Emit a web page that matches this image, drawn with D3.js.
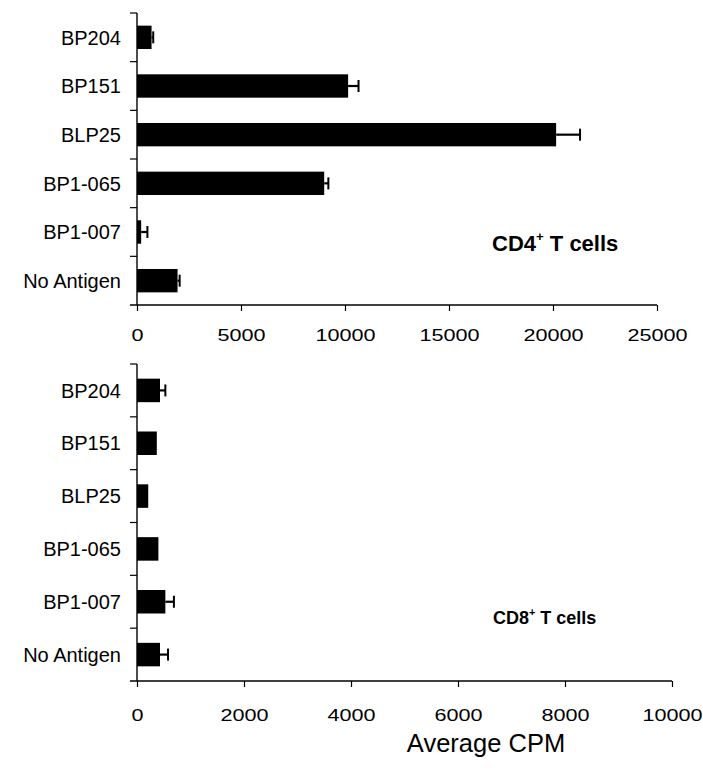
<!DOCTYPE html>
<html>
<head>
<meta charset="utf-8">
<script src="https://cdn.jsdelivr.net/npm/d3@7"></script>
<style>
  html, body { margin: 0; padding: 0; background: #fff; }
  svg { display: block; }
  text { font-family: "Liberation Sans", Arial, sans-serif; fill: #000; }
</style>
</head>
<body>
<svg id="chart" width="703" height="773"></svg>
<script>
// Antigens, listed top to bottom
const categories = ["BP204", "BP151", "BLP25", "BP1-065", "BP1-007", "No Antigen"];

// CD4+ T cell proliferation (average CPM) and error
const cd4Values = [700, 10150, 20150, 9000, 200, 1950];
const cd4Errors = [80, 500, 1150, 200, 300, 100];

// CD8+ T cell proliferation (average CPM) and error
const cd8Values = [430, 370, 210, 400, 530, 430];
const cd8Errors = [100, 0, 0, 0, 160, 150];

// Axis tick labels
const cd4Ticks = [0, 5000, 10000, 15000, 20000, 25000];
const cd8Ticks = [0, 2000, 4000, 6000, 8000, 10000];

const svg = d3.select("#chart");

function panel(cfg) {
  const g = svg.append("g");
  const x = d3.scaleLinear().domain([0, cfg.max]).range([137, cfg.right]);
  const y = d3.scaleBand().domain(categories)
    .range([cfg.top, cfg.bottom])
    .paddingInner(cfg.pad).paddingOuter(cfg.pad / 2);

  // bars
  g.selectAll("rect.bar").data(categories).enter().append("rect")
    .attr("class", "bar")
    .attr("x", x(0))
    .attr("y", d => y(d))
    .attr("width", (d, i) => x(cfg.values[i]) - x(0))
    .attr("height", y.bandwidth())
    .attr("fill", "#000");

  // error bars (positive side only)
  const eb = g.selectAll("g.err").data(categories.map((c, i) => ({c, v: cfg.values[i], e: cfg.errors[i]})).filter(d => d.e > 0))
    .enter().append("g").attr("class", "err");
  eb.append("line")
    .attr("x1", d => x(d.v)).attr("x2", d => x(d.v + d.e))
    .attr("y1", d => y(d.c) + y.bandwidth() / 2).attr("y2", d => y(d.c) + y.bandwidth() / 2)
    .attr("stroke", "#000").attr("stroke-width", 2.2);
  eb.append("line")
    .attr("x1", d => x(d.v + d.e)).attr("x2", d => x(d.v + d.e))
    .attr("y1", d => y(d.c) + y.bandwidth() / 2 - 6).attr("y2", d => y(d.c) + y.bandwidth() / 2 + 6)
    .attr("stroke", "#000").attr("stroke-width", 2);

  // x axis
  const xa = g.append("g").attr("transform", `translate(0,${cfg.bottom})`)
    .call(d3.axisBottom(x).tickValues(cfg.ticks).tickFormat(d3.format("d")).tickSize(6).tickPadding(cfg.tickPad));
  xa.select(".domain").attr("d", `M${x(0) - 7},0H${cfg.right}`).attr("stroke-width", 1.4);
  xa.selectAll(".tick line").attr("stroke-width", 1.2);
  xa.selectAll(".tick text")
    .attr("font-size", 17)
    .attr("font-family", "'Liberation Sans', Arial, sans-serif")
    .attr("transform", "scale(1.27,1)");

  // y axis: line with ticks at category boundaries
  g.append("line")
    .attr("x1", x(0)).attr("x2", x(0))
    .attr("y1", cfg.top).attr("y2", cfg.bottom)
    .attr("stroke", "#000").attr("stroke-width", 1.4);
  const bounds = d3.range(categories.length + 1).map(i => cfg.top + i * y.step());
  g.selectAll("line.ytick").data(bounds.slice(0, -1)).enter().append("line")
    .attr("class", "ytick")
    .attr("x1", x(0) - 7).attr("x2", x(0))
    .attr("y1", d => d).attr("y2", d => d)
    .attr("stroke", "#000").attr("stroke-width", 1.2);

  // category labels
  g.selectAll("text.cat").data(categories).enter().append("text")
    .attr("class", "cat")
    .attr("x", x(0) - 16)
    .attr("y", d => y(d) + y.bandwidth() / 2)
    .attr("dy", "0.36em")
    .attr("text-anchor", "end")
    .attr("font-size", 20)
    .text(d => d);

  // cell-type label
  const t = g.append("text")
    .attr("x", cfg.labelX).attr("y", cfg.labelY)
    .attr("font-size", cfg.labelSize).attr("font-weight", "bold");
  t.append("tspan").text(cfg.label[0]);
  t.append("tspan").attr("dy", -cfg.labelSize * 0.45).attr("font-size", cfg.labelSize * 0.6).text("+");
  t.append("tspan").attr("dy", cfg.labelSize * 0.45).text(" " + cfg.label[1]);
}

panel({
  values: cd4Values, errors: cd4Errors, ticks: cd4Ticks, max: 25000,
  right: 657, top: 13, bottom: 305, pad: 0.52, tickPad: 18,
  label: ["CD4", "T cells"], labelX: 492, labelY: 251, labelSize: 22
});

panel({
  values: cd8Values, errors: cd8Errors, ticks: cd8Ticks, max: 10000,
  right: 672, top: 364, bottom: 681, pad: 0.555, tickPad: 22,
  label: ["CD8", "T cells"], labelX: 493, labelY: 624, labelSize: 18
});

// shared axis title
svg.append("text")
  .attr("x", 486).attr("y", 752)
  .attr("text-anchor", "middle")
  .attr("font-size", 25.5)
  .text("Average CPM");
</script>
</body>
</html>
